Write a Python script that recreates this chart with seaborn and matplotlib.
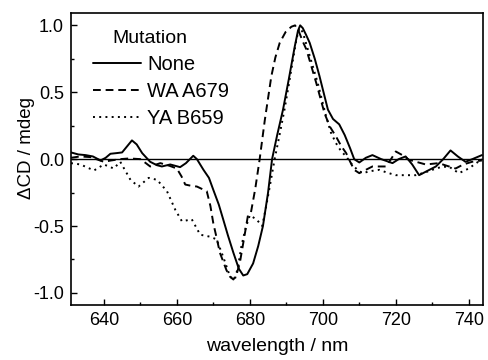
import numpy as np
import pandas as pd
import matplotlib
matplotlib.use("Agg")
import matplotlib.pyplot as plt
import seaborn as sns
from matplotlib.ticker import MultipleLocator

# --- data ---
none_x = [631, 633, 635, 637, 639.1, 640.5, 641.8, 643.5, 645, 646.5, 647.7, 649, 650.5, 652.7,
          654.5, 655.9, 658.2, 660.9, 662.5, 664.5, 665.5, 667.3, 668.8, 670, 671.5, 672.7,
          674, 675.5, 677, 678.2, 679.3, 680.9, 682.3, 683.6, 685, 686.1, 687.5, 689.1, 690.7,
          692.3, 693.2, 693.8, 694.5, 695.4, 696.4, 697.8, 699.1, 700.2, 701.4, 702.8, 704.5,
          706, 707.5, 708.6, 710, 711.8, 713.6, 716, 719.1, 720.8, 722.7, 724.5, 726.4, 728.5,
          731, 733, 735, 737, 739.1, 741, 743.6]
none_y = [0.05, 0.035, 0.03, 0.02, -0.01, 0.01, 0.04, 0.045, 0.05, 0.10, 0.14, 0.11, 0.045, -0.02,
          -0.045, -0.055, -0.04, -0.06, -0.03, 0.025, 0.0, -0.08, -0.14, -0.23, -0.34, -0.45,
          -0.57, -0.70, -0.82, -0.87, -0.86, -0.78, -0.65, -0.50, -0.25, 0.0, 0.18, 0.37, 0.60,
          0.84, 0.96, 1.0, 0.98, 0.93, 0.87, 0.75, 0.62, 0.50, 0.37, 0.30, 0.26,
          0.18, 0.08, 0.0, -0.025, 0.01, 0.03, 0.0, -0.03, 0.0, 0.02, -0.04, -0.12, -0.09,
          -0.055, 0.0, 0.065, 0.02, -0.02, 0.0, 0.03]

wa_x = [631, 633.5, 636.4, 640, 642, 644.5, 647, 650, 651.5, 652.7, 655.5, 658, 660, 661.3,
        662.3, 664, 665.5, 668.2, 669.2, 670, 671, 671.8, 673.6, 674.6, 675.5, 676.4, 677.3,
        678.5, 679.5, 680.3, 681.5, 682.7, 684.1, 685.9, 687, 688.2, 689.8, 691.4, 692.4,
        693.5, 694.5, 695.5, 696.8, 698.2, 700.5, 702, 703.6, 705, 706.4, 707.5, 708.6, 710,
        711.8, 713.6, 717.3, 718.7, 720, 721.8, 723.6, 728.2, 731.8, 734, 736.4, 738.5,
        740.9, 743.6]
wa_y = [0.01, 0.02, 0.015, -0.02, -0.01, 0.0, 0.005, 0.0, -0.03, -0.055, -0.03, -0.05, -0.07, -0.13,
        -0.19, -0.20, -0.205, -0.24, -0.35, -0.48, -0.60, -0.70, -0.83, -0.88, -0.90, -0.86, -0.77,
        -0.58, -0.42, -0.40, -0.22, 0.0, 0.29, 0.62, 0.76, 0.87, 0.95, 0.99, 1.0,
        0.95, 0.88, 0.82, 0.70, 0.57, 0.34, 0.24, 0.17, 0.10, 0.045, -0.02, -0.08, -0.105,
        -0.08, -0.055, -0.055, 0.0, 0.057, 0.03, -0.005, -0.04, -0.03, -0.05, -0.07, -0.04,
        -0.02, -0.01]

ya_x = [631, 633.6, 637.3, 640, 642.7, 644.5, 647.3, 649.5, 652.3, 654.6, 657.3, 659.6,
        661.4, 664.1, 666.4, 669.1, 670.9, 672.7, 674.6, 675.9, 676.8, 677.7, 678.8, 680,
        681.8, 683.4, 684.5, 685.5, 686.8, 688, 689.5, 690.7, 691.8, 692.8, 693.6, 694.5,
        695.9, 697.2, 698.6, 700.9, 702.2, 703.6, 705, 706.4, 708, 709.5, 710.9, 713, 715.5,
        717.5, 720, 722.5, 725.5, 728, 730, 732.3, 734.5, 737.3, 740, 743.6]
ya_y = [-0.03, -0.04, -0.085, -0.04, -0.07, -0.02, -0.155, -0.205, -0.14, -0.155, -0.24, -0.38,
        -0.465, -0.45, -0.565, -0.58, -0.60, -0.73, -0.88, -0.90, -0.80, -0.65, -0.52, -0.42,
        -0.45, -0.50, -0.35, -0.20, 0.0, 0.16, 0.37, 0.56, 0.74, 0.90, 0.98, 0.95,
        0.82, 0.70, 0.57, 0.32, 0.20, 0.12, 0.06, 0.02, -0.04, -0.08, -0.105, -0.09, -0.08,
        -0.10, -0.12, -0.12, -0.12, -0.10, -0.08, -0.06, -0.055, -0.105, -0.07, 0.0]

labels = ["None", "WA A679", "YA B659"]
legend_title = "Mutation"
x_ticks = [640, 660, 680, 700, 720, 740]
y_ticks = [-1.0, -0.5, 0.0, 0.5, 1.0]

df = pd.concat([
    pd.DataFrame({"wavelength": none_x, "dCD": none_y, "Mutation": labels[0]}),
    pd.DataFrame({"wavelength": wa_x, "dCD": wa_y, "Mutation": labels[1]}),
    pd.DataFrame({"wavelength": ya_x, "dCD": ya_y, "Mutation": labels[2]}),
], ignore_index=True)

sns.set_theme(style="ticks")
plt.rcParams["font.family"] = ["Liberation Sans", "DejaVu Sans"]

fig = plt.figure(figsize=(4.88, 3.6), dpi=100)
ax = fig.add_axes([0.1455, 0.153, 0.845, 0.810])

ax.axhline(0, color="black", lw=1.0, zorder=1)

dash_styles = [(None, None), (4, 2.5), (1, 2.2)]
sns.lineplot(data=df, x="wavelength", y="dCD", hue="Mutation", style="Mutation",
             palette=["black"] * 3, dashes=dash_styles,
             estimator=None, sort=False, lw=1.4, ax=ax, legend=False)

ax.set_xlim(631, 744)
ax.set_ylim(-1.09, 1.09)
ax.set_xticks(x_ticks)
ax.set_yticks(y_ticks)
ax.xaxis.set_minor_locator(MultipleLocator(10))
ax.yaxis.set_minor_locator(MultipleLocator(0.25))
ax.tick_params(which="both", direction="in", labelsize=13, color="black", labelcolor="black", pad=5)
ax.tick_params(which="major", length=4, width=1)
ax.tick_params(which="minor", length=2.5, width=1)
ax.set_yticklabels([f"{v:.1f}" for v in y_ticks])
for s in ax.spines.values():
    s.set_linewidth(1.2)
    s.set_color("black")
ax.set_xlabel("wavelength / nm", fontsize=14, color="black")
ax.set_ylabel("ΔCD / mdeg", fontsize=13.5, color="black")
ax.xaxis.set_label_coords(0.5, -0.112)
ax.yaxis.set_label_coords(-0.088, 0.537)

handles = [
    plt.Line2D([], [], color="black", lw=1.4, linestyle="-"),
    plt.Line2D([], [], color="black", lw=1.4, dashes=(4, 2.5)),
    plt.Line2D([], [], color="black", lw=1.4, dashes=(1, 2.2)),
]
leg = ax.legend(handles, labels, loc="upper left", frameon=False,
                fontsize=14.5, handlelength=2.4, handletextpad=0.3,
                labelspacing=0.38, borderaxespad=0, borderpad=0,
                labelcolor="black", bbox_to_anchor=(0.053, 0.856))
ax.text(0.1, 0.912, legend_title, transform=ax.transAxes, fontsize=14,
        color="black", ha="left", va="center")

fig.savefig("out.png", dpi=100)
